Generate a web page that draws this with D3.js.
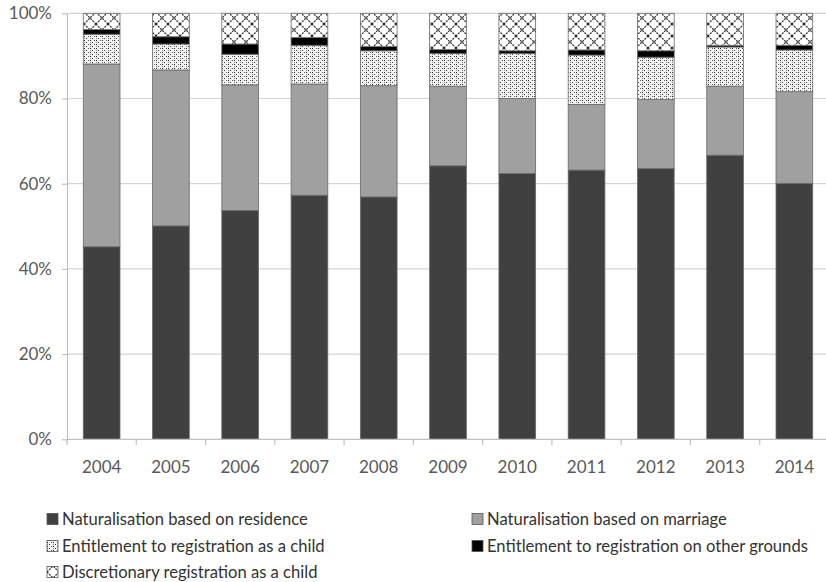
<!DOCTYPE html>
<html>
<head>
<meta charset="utf-8">
<script src="https://cdn.jsdelivr.net/npm/d3@7/dist/d3.min.js"></script>
<style>
  html, body { margin: 0; padding: 0; background: #fff; }
  svg { display: block; font-family: Lato, "Open Sans", sans-serif; }
</style>
</head>
<body>
<svg id="chart" width="826" height="582"></svg>
<script>
// Share of citizenship grants by route, 2004–2014 (per cent of annual total)
const years = ["2004","2005","2006","2007","2008","2009","2010","2011","2012","2013","2014"];
const residence     = [45.2, 50.1, 53.7, 57.3, 56.9, 64.2, 62.4, 63.2, 63.6, 66.7, 60.1];
const marriage      = [42.9, 36.6, 29.5, 26.1, 26.1, 18.7, 17.6, 15.4, 16.2, 16.2, 21.5];
const childEntitled = [7.0, 6.1, 7.2, 9.1, 8.2, 7.7, 10.6, 11.6, 9.9, 9.2, 9.8];
const otherGrounds  = [1.1, 1.7, 2.4, 1.8, 1.0, 0.9, 0.6, 1.2, 1.5, 0.4, 1.1];
const discretionary = [3.8, 5.5, 7.2, 5.7, 7.8, 8.5, 8.8, 8.6, 8.8, 7.5, 7.5];
const yTicks = [0, 0.2, 0.4, 0.6, 0.8, 1.0];

const seriesNames = [
  "Naturalisation based on residence",
  "Naturalisation based on marriage",
  "Entitlement to registration as a child",
  "Entitlement to registration on other grounds",
  "Discretionary registration as a child"
];
const seriesKeys = ["residence","marriage","child","other","discretionary"];
const seriesValues = [residence, marriage, childEntitled, otherGrounds, discretionary];

const rows = years.map((y, i) => {
  const r = { year: y };
  const total = d3.sum(seriesValues, s => s[i]);
  seriesKeys.forEach((k, j) => r[k] = seriesValues[j][i] / total);
  return r;
});

const svg = d3.select("#chart");
const defs = svg.append("defs");

// stippled fill: columns of small dots
const pStipple = defs.append("pattern").attr("id","stipple")
  .attr("patternUnits","userSpaceOnUse").attr("width",6).attr("height",4);
pStipple.append("rect").attr("width",6).attr("height",4).attr("fill","#f2f2f2");
pStipple.append("rect").attr("x",0).attr("y",0).attr("width",1).attr("height",1).attr("fill","#222");
pStipple.append("rect").attr("x",2).attr("y",2).attr("width",1).attr("height",1).attr("fill","#444");
pStipple.append("rect").attr("x",4).attr("y",0).attr("width",1).attr("height",1).attr("fill","#666");
pStipple.append("rect").attr("x",0).attr("y",2).attr("width",1).attr("height",1).attr("fill","#888");

// diamond lattice fill
const pLattice = defs.append("pattern").attr("id","lattice")
  .attr("patternUnits","userSpaceOnUse").attr("width",12).attr("height",12);
pLattice.append("rect").attr("width",12).attr("height",12).attr("fill","#fff");
pLattice.append("path").attr("d","M0,0L12,12M12,0L0,12M-1,11L1,13M11,-1L13,1M-1,1L1,-1M11,13L13,11")
  .attr("stroke","#333").attr("stroke-width",1.3).attr("stroke-dasharray","2,1").attr("fill","none");

const fills = {
  residence: "#404040",
  marriage: "#a0a0a0",
  child: "url(#stipple)",
  other: "#000",
  discretionary: "url(#lattice)"
};

const x = d3.scaleBand().domain(years).range([67, 829]).paddingInner(0.47).paddingOuter(0.235);
const y = d3.scaleLinear().domain([0, 1]).range([439.3, 13.3]);

// gridlines
svg.append("g").selectAll("line").data(yTicks.filter(t => t > 0)).join("line")
  .attr("x1", 67).attr("x2", 826)
  .attr("y1", d => y(d)).attr("y2", d => y(d))
  .attr("stroke", "#d4d4d4").attr("stroke-width", 1.2);

// y axis
const yAxis = svg.append("g").attr("transform","translate(67,0)")
  .call(d3.axisLeft(y).tickValues(yTicks).tickFormat(d3.format(".0%")).tickSizeInner(5).tickSizeOuter(0).tickPadding(10));
yAxis.select(".domain").attr("stroke","#c0c0c0").attr("stroke-width",1.2);
yAxis.selectAll(".tick line").attr("stroke","#c0c0c0").attr("stroke-width",1.2);
yAxis.selectAll(".tick text").attr("font-size",17).attr("fill","#595959").attr("font-family","Lato, sans-serif");

// stacked bars
const stack = d3.stack().keys(seriesKeys);
const layers = stack(rows);
svg.append("g").selectAll("g").data(layers).join("g")
  .attr("fill", d => fills[d.key])
  .selectAll("rect").data(d => d).join("rect")
    .attr("x", d => x(d.data.year))
    .attr("width", x.bandwidth())
    .attr("y", d => y(d[1]))
    .attr("height", d => y(d[0]) - y(d[1]))
    .attr("stroke", "#6a6a6a").attr("stroke-width", 0.8);

// x axis with ticks between categories
const xg = svg.append("g");
xg.append("line").attr("x1",67).attr("x2",826).attr("y1",439.3).attr("y2",439.3)
  .attr("stroke","#c0c0c0").attr("stroke-width",1.2);
const step = x.step();
xg.selectAll("line.tk").data(d3.range(years.length + 1)).join("line").attr("class","tk")
  .attr("x1", i => 67 + i * step).attr("x2", i => 67 + i * step)
  .attr("y1", 439.3).attr("y2", 445)
  .attr("stroke","#c0c0c0").attr("stroke-width",1.2);
xg.selectAll("text").data(years).join("text")
  .attr("x", d => x(d) + x.bandwidth() / 2)
  .attr("y", 467).attr("dy","0.35em")
  .attr("text-anchor","middle")
  .attr("font-size",17).attr("fill","#595959")
  .text(d => d);

// legend
const legendItems = [
  { key: "residence", col: 0, row: 0 },
  { key: "marriage", col: 1, row: 0 },
  { key: "child", col: 0, row: 1 },
  { key: "other", col: 1, row: 1 },
  { key: "discretionary", col: 0, row: 2 }
];
const legendX = [47, 472];
const legendY = [519, 546, 572];
const lg = svg.append("g").selectAll("g").data(legendItems).join("g")
  .attr("transform", d => `translate(${legendX[d.col]},${legendY[d.row]})`);
lg.append("rect").attr("x",0).attr("y",-5.5).attr("width",11).attr("height",11)
  .attr("fill", d => fills[d.key]).attr("stroke","#555").attr("stroke-width",0.8);
lg.append("text").attr("x",15).attr("y",0).attr("dy","0.35em")
  .attr("font-size",16.6).attr("fill","#333")
  .text(d => seriesNames[seriesKeys.indexOf(d.key)]);
</script>
</body>
</html>
